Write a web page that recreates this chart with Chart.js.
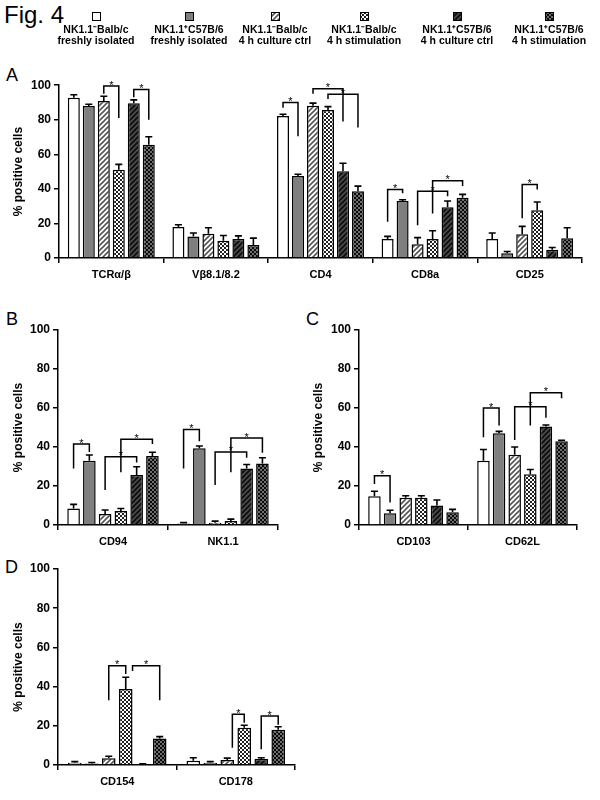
<!DOCTYPE html>
<html>
<head>
<meta charset="utf-8">
<script src="https://cdn.jsdelivr.net/npm/chart.js@4.4.1/dist/chart.umd.min.js"></script>
<style>
  body { margin: 0; background: #fff; }
  #page { position: relative; width: 600px; height: 800px; font-family: Arial, "Liberation Sans", sans-serif; color: #000; }
  .abs { position: absolute; }
  .letter { font-size: 18px; line-height: 18px; }
  .leg { position: absolute; width: 96px; text-align: center; font-weight: bold; font-size: 10.5px; line-height: 10.5px; white-space: nowrap; }
  .leg canvas { display: block; margin: 0 auto 3px auto; }
</style>
</head>
<body>
<div id="page">
  <div class="abs" style="left:4px;top:3px;font-size:24px;line-height:24px;">Fig. 4</div>
  <div id="legend"></div>

  <div class="abs letter" style="left:6px;top:66px;">A</div>
  <canvas id="chartA" class="abs" style="left:0;top:75px;" width="590" height="215"></canvas>

  <div class="abs letter" style="left:6px;top:310px;">B</div>
  <canvas id="chartB" class="abs" style="left:0;top:315px;" width="290" height="240"></canvas>

  <div class="abs letter" style="left:306px;top:310px;">C</div>
  <canvas id="chartC" class="abs" style="left:300px;top:315px;" width="290" height="240"></canvas>

  <div class="abs letter" style="left:5px;top:558px;">D</div>
  <canvas id="chartD" class="abs" style="left:0;top:555px;" width="305" height="240"></canvas>
</div>

<script>
const FONT = 'Arial, "Liberation Sans", sans-serif';

const seriesLabels = [
  ['NK1.1⁻Balb/c', 'freshly isolated'],
  ['NK1.1⁺C57B/6', 'freshly isolated'],
  ['NK1.1⁻Balb/c', '4 h culture ctrl'],
  ['NK1.1⁻Balb/c', '4 h stimulation'],
  ['NK1.1⁺C57B/6', '4 h culture ctrl'],
  ['NK1.1⁺C57B/6', '4 h stimulation']
];
const seriesFills = ['white', 'gray', 'stripe', 'checker', 'darkStripe', 'darkChecker'];
const yTicks = [0, 20, 40, 60, 80, 100];

// one row per series, one column per category
const catsA = ['TCRα/β', 'Vβ8.1/8.2', 'CD4', 'CD8a', 'CD25'];
const valsA = [
  [92.7, 18, 82.2, 11, 11],
  [88, 12.5, 47.5, 33, 2.7],
  [90.8, 14, 88.1, 8, 13.8],
  [51, 10, 85.6, 11, 27.6],
  [89.5, 11, 50.2, 29.3, 4.8],
  [65.5, 7.5, 38.7, 34.9, 11.5]
];
const errsA = [
  [1.8, 1.2, 1, 1.5, 3.5],
  [1, 2, 1, 0.7, 1.1],
  [2.8, 3.5, 1.5, 3.8, 4.5],
  [3.2, 3, 2, 4.8, 4.8],
  [2, 1.8, 4.6, 3.7, 1.3],
  [4.7, 4, 2.9, 1.9, 6]
];
// significance brackets: category, from series, to series, bracket level, left end, right end
const sigA = [
  [0, 2, 3, 99.5, 95, 81],
  [0, 4, 5, 97.5, 93, 80],
  [2, 0, 1, 90, 87, 70.5],
  [2, 2, 4, 98, 95, 79],
  [2, 3, 5, 94.8, 92, 75.5],
  [3, 0, 1, 39.7, 21, 37.4],
  [3, 2, 4, 38.7, 19, 35.8],
  [3, 3, 5, 44.7, 25.8, 41.6],
  [4, 2, 3, 42.6, 23, 39.7]
];

const catsB = ['CD94', 'NK1.1'];
const valsB = [[8.5, 0.8], [33, 39.3], [5.6, 1.2], [7.2, 2], [25.6, 29], [35.4, 31.6]];
const errsB = [[2.1, 0.4], [2.9, 1.2], [2.1, 0.8], [1.3, 1], [4.3, 2], [1.9, 2.9]];
const sigB = [
  [0, 0, 1, 41.5, 29, 37.5],
  [0, 2, 4, 35, 18, 32],
  [0, 3, 5, 44, 27, 41.5],
  [1, 0, 1, 49, 29, 43],
  [1, 2, 4, 37.5, 20.5, 34.5],
  [1, 3, 5, 44.6, 27, 37]
];

const catsC = ['CD103', 'CD62L'];
const valsC = [[14.8, 33], [6, 47], [14, 36], [14, 26], [10, 50.5], [6.6, 43]];
const errsC = [[2.5, 5.7], [1.6, 1], [1, 4], [1, 2.5], [2.8, 0.8], [1.4, 0.5]];
const sigC = [
  [0, 0, 1, 25.3, 21, 11.5],
  [1, 0, 1, 60, 45, 51],
  [1, 2, 4, 60.7, 43.6, 55],
  [1, 3, 5, 67.8, 51, 65]
];

const catsD = ['CD154', 'CD178'];
const valsD = [[1.2, 2.2], [0.8, 1.2], [3.5, 2.5], [38.8, 19], [0.3, 3], [13.5, 18]];
const errsD = [[0.5, 1.5], [0.5, 0.5], [1, 1], [6, 1.3], [0.3, 0.7], [1, 1.5]];
const sigD = [
  [0, 2, 3, 50.6, 33, 46.4],
  [0, 3.4, 5, 50.6, 48, 33],
  [1, 2.3, 3, 25.9, 8.8, 21.5],
  [1, 4, 5, 25, 8, 20.5]
];

function makePattern(ctx, kind) {
  if (kind === 'white') return '#ffffff';
  if (kind === 'gray') return '#7f7f7f';
  const c = document.createElement('canvas');
  const g = c.getContext('2d');
  if (kind === 'stripe' || kind === 'darkStripe') {
    const s = 5;
    c.width = c.height = s;
    g.fillStyle = kind === 'stripe' ? '#ffffff' : '#4a4a4a';
    g.fillRect(0, 0, s, s);
    g.strokeStyle = kind === 'stripe' ? '#555555' : '#0c0c0c';
    g.lineWidth = 1.6;
    g.beginPath();
    g.moveTo(0, s); g.lineTo(s, 0);
    g.moveTo(-1, 1); g.lineTo(1, -1);
    g.moveTo(s - 1, s + 1); g.lineTo(s + 1, s - 1);
    g.stroke();
  } else {
    c.width = c.height = 4;
    g.fillStyle = kind === 'checker' ? '#ffffff' : '#6e6e6e';
    g.fillRect(0, 0, 4, 4);
    g.fillStyle = kind === 'checker' ? '#202020' : '#0a0a0a';
    g.fillRect(0, 0, 2, 2);
    g.fillRect(2, 2, 2, 2);
  }
  return ctx.createPattern(c, 'repeat');
}

// legend
const legendX = [96, 189, 275, 364, 457, 549];
const legendEl = document.getElementById('legend');
seriesLabels.forEach((lines, i) => {
  const d = document.createElement('div');
  d.className = 'leg';
  d.style.left = (legendX[i] - 48) + 'px';
  d.style.top = '12px';
  const sw = document.createElement('canvas');
  sw.width = 9; sw.height = 9;
  const g = sw.getContext('2d');
  g.fillStyle = makePattern(g, seriesFills[i]);
  g.fillRect(0, 0, 9, 9);
  g.strokeStyle = '#000'; g.lineWidth = 1;
  g.strokeRect(0.5, 0.5, 8, 8);
  d.appendChild(sw);
  d.appendChild(document.createTextNode(lines[0]));
  d.appendChild(document.createElement('br'));
  d.appendChild(document.createTextNode(lines[1]));
  legendEl.appendChild(d);
});

function extras(errs, sigs) {
  return {
    id: 'extras',
    afterDatasetsDraw(chart) {
      const { ctx } = chart;
      const y = chart.scales.y;
      ctx.save();
      ctx.strokeStyle = '#000';
      ctx.lineWidth = 1.6;
      errs.forEach((row, si) => {
        const meta = chart.getDatasetMeta(si);
        row.forEach((e, ci) => {
          const bar = meta.data[ci];
          const top = y.getPixelForValue(chart.data.datasets[si].data[ci] + e);
          ctx.beginPath();
          ctx.moveTo(bar.x, bar.y);
          ctx.lineTo(bar.x, top);
          ctx.moveTo(bar.x - 3.5, top);
          ctx.lineTo(bar.x + 3.5, top);
          ctx.stroke();
        });
      });
      const xAt = (ci, s) => {
        const i = Math.floor(s), f = s - i;
        const a = chart.getDatasetMeta(i).data[ci].x;
        if (!f) return a;
        const b = chart.getDatasetMeta(i + 1).data[ci].x;
        return a + f * (b - a);
      };
      ctx.lineWidth = 1.5;
      ctx.fillStyle = '#000';
      ctx.font = '11px ' + FONT;
      ctx.textAlign = 'center';
      ctx.textBaseline = 'alphabetic';
      sigs.forEach(([ci, s1, s2, lvl, l, r]) => {
        const x1 = xAt(ci, s1), x2 = xAt(ci, s2);
        const yt = y.getPixelForValue(lvl);
        ctx.beginPath();
        ctx.moveTo(x1, y.getPixelForValue(l));
        ctx.lineTo(x1, yt);
        ctx.lineTo(x2, yt);
        ctx.lineTo(x2, y.getPixelForValue(r));
        ctx.stroke();
        ctx.fillText('*', (x1 + x2) / 2, yt + 2.5);
      });
      ctx.restore();
    }
  };
}

function makePanel(id, cats, vals, errs, sigs, yW, xH, pad) {
  const ctx = document.getElementById(id).getContext('2d');
  const tickFont = { family: FONT, size: 12, weight: 'bold' };
  return new Chart(ctx, {
    type: 'bar',
    data: {
      labels: cats,
      datasets: vals.map((row, i) => ({
        label: seriesLabels[i].join(' '),
        data: row,
        backgroundColor: makePattern(ctx, seriesFills[i]),
        borderColor: '#000',
        borderWidth: 1.5,
        categoryPercentage: 0.86,
        barPercentage: 0.8
      }))
    },
    options: {
      responsive: false,
      animation: false,
      devicePixelRatio: 1,
      layout: { padding: pad },
      plugins: { legend: { display: false }, tooltip: { enabled: false } },
      scales: {
        x: {
          afterFit: s => { s.height = xH; },
          grid: { offset: true, drawOnChartArea: false, color: '#000', lineWidth: 1.5, tickLength: 5 },
          border: { color: '#000', width: 1.5 },
          ticks: { color: '#000', font: { family: FONT, size: 11, weight: 'bold' }, padding: 5, maxRotation: 0, autoSkip: false }
        },
        y: {
          min: 0,
          max: 100,
          afterFit: s => { s.width = yW; },
          afterBuildTicks: s => { s.ticks = yTicks.map(v => ({ value: v })); },
          grid: { drawOnChartArea: false, color: '#000', lineWidth: 1.5, tickLength: 5 },
          border: { color: '#000', width: 1.5 },
          ticks: { color: '#000', font: tickFont, padding: 3 },
          title: { display: true, text: '% positive cells', color: '#000', font: tickFont, padding: { top: 11, bottom: 0 } }
        }
      }
    },
    plugins: [extras(errs, sigs)]
  });
}

makePanel('chartA', catsA, valsA, errsA, sigA, 59, 32, { top: 10, right: 8, left: 0, bottom: 0 });
makePanel('chartB', catsB, valsB, errsB, sigB, 58, 30, { top: 15, right: 12, left: 0, bottom: 0 });
makePanel('chartC', catsC, valsC, errsC, sigC, 59, 30, { top: 15, right: 13, left: 0, bottom: 0 });
makePanel('chartD', catsD, valsD, errsD, sigD, 58, 30, { top: 14, right: 10, left: 0, bottom: 0 });
</script>
</body>
</html>
